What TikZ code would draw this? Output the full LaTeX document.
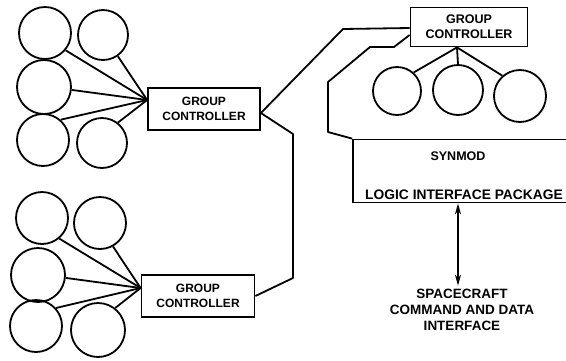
\documentclass[tikz,border=0pt]{standalone}
\usepackage{fontspec}
\setmainfont{Liberation Sans}
\usetikzlibrary{positioning,calc,arrows.meta}
\tikzset{
    unit/.style={circle,draw,line width=1.8pt,inner sep=0pt,minimum size=#1},
    ctrl/.style={rectangle,draw,line width=1.8pt,inner sep=0pt,align=center,
                 minimum width=112pt,minimum height=42pt,
                 font=\bfseries\fontsize{12}{15}\selectfont},
    wire/.style={line width=1.8pt,line join=round},
    link/.style={{Stealth[length=11pt,width=6pt]}-{Stealth[length=11pt,width=6pt]},line width=1.8pt},
}
\begin{document}
\begin{tikzpicture}[x=1pt,y=-1pt]
    \useasboundingbox (0,0) rectangle (566,360);

    % ---- upper group ----
    \node[unit=52pt] (a1) at (45,33)  {};
    \node[unit=50pt] (a2) at (103,35) {};
    \node[unit=54pt] (a3) at (44,87)  {};
    \node[unit=52pt] (a4) at (43,140) {};
    \node[unit=50pt] (a5) at (102,143){};
    \node[ctrl] (gc1) at (204,109) {GROUP\\CONTROLLER};
    \coordinate (ja) at ([yshift=9pt]gc1.west);
    \foreach \n/\ang in {a1/-40,a2/-55,a3/-6,a4/49,a5/52}
        \draw[wire] (\n.\ang) -- (ja);

    % ---- lower group ----
    \node[unit=52pt] (b1) at (42,218) {};
    \node[unit=52pt] (b2) at (100,223){};
    \node[unit=54pt] (b3) at (38,275) {};
    \node[unit=52pt] (b4) at (36,326) {};
    \node[unit=54pt] (b5) at (98,330) {};
    \node[ctrl, minimum width=113pt] (gc2) at (198,296) {GROUP\\CONTROLLER};
    \coordinate (jb) at ([yshift=8pt]gc2.west);
    \foreach \n/\ang in {b1/-50,b2/-61,b3/-6,b4/42,b5/52}
        \draw[wire] (\n.\ang) -- (jb);

    % ---- right group ----
    \node[ctrl, minimum width=117pt, minimum height=39pt,
          font=\bfseries\fontsize{12.5}{15}\selectfont] (gc3) at (469,27) {GROUP\\CONTROLLER};
    \node[unit=48pt] (c1) at (397,91) {};
    \node[unit=50pt] (c2) at (458,90) {};
    \node[unit=52pt] (c3) at (520,96) {};
    \coordinate (jc) at ([xshift=-12pt]gc3.south);
    \foreach \n/\ang in {c1/48,c2/90,c3/131}
        \draw[wire] (jc) -- (\n.\ang);

    % ---- synmod ----
    \node[rectangle,draw,line width=1.8pt,minimum width=222pt,minimum height=63pt] (syn) at (464,171) {};
    \node[font=\bfseries\fontsize{12.5}{14}\selectfont, below=10pt of syn.north, xshift=-6pt] (synt) {SYNMOD};
    \node[font=\bfseries\fontsize{13.8}{15}\selectfont, above=0pt of syn.south] (lip) {LOGIC INTERFACE PACKAGE};
    \node[font=\bfseries\fontsize{13.5}{16}\selectfont, align=center] (sc) at (462,310)
        {SPACECRAFT\\COMMAND AND DATA\\INTERFACE};

    % ---- connections ----
    \coordinate (k1) at (343,29);
    \coordinate (k2) at (293,134);
    \coordinate (k3) at (293,278);
    \coordinate (m1) at (394,47);
    \coordinate (m2) at (370,47);
    \coordinate (m3) at (328,82);
    \coordinate (m4) at (328,132);
    \draw[wire] ([yshift=-4pt]gc1.east) -- (k1) -- ([yshift=-1pt]gc3.west);
    \draw[wire] ([yshift=-4pt]gc1.east) -- (k2) -- (k3) -- (gc2.east);
    \draw[wire] ([yshift=-8pt]gc3.west) -- (m1) -- (m2) -- (m3) -- (m4) -- (syn.north west);
    \draw[link] ([xshift=-4pt]sc.north |- syn.south) -- ([xshift=-4pt]sc.north);

\end{tikzpicture}
\end{document}
